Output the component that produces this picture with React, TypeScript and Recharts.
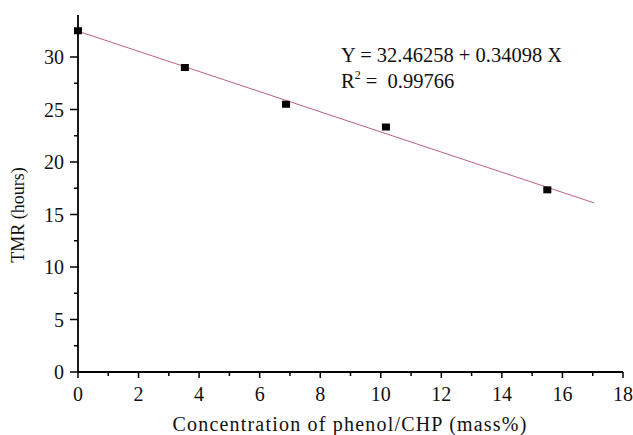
import { ComposedChart, Line, Scatter, XAxis, YAxis, Label } from "recharts";

// measured points (phenol/CHP mass%, TMR hours)
const CONC = [0, 3.53, 6.87, 10.17, 15.5];
const TMR = [32.5, 29.0, 25.5, 23.33, 17.35];

// linear fit, drawn from 0 to ~17
const FIT_X = [0, 17.05];
const FIT_Y = [32.46, 16.1];

const X_TICKS = [0, 1, 2, 3, 4, 5, 6, 7, 8, 9, 10, 11, 12, 13, 14, 15, 16, 17, 18];
const Y_TICKS = [0, 2.5, 5, 7.5, 10, 12.5, 15, 17.5, 20, 22.5, 25, 27.5, 30, 32.5];

const FONT = '"Liberation Serif", "Times New Roman", serif';

const points = CONC.map((x, i) => ({ x, y: TMR[i] }));
const fit = FIT_X.map((x, i) => ({ x, y: FIT_Y[i] }));

function XTick({ x, y, payload }: any) {
  const major = payload.value % 2 === 0;
  return (
    <g>
      <line x1={x} x2={x} y1={y} y2={y + (major ? 6 : 4)} stroke="#000" strokeWidth={1.5} />
      {major && (
        <text x={x} y={y + 29} textAnchor="middle" fontSize={20} fontFamily={FONT} fill="#111">
          {payload.value}
        </text>
      )}
    </g>
  );
}

function YTick({ x, y, payload }: any) {
  const major = payload.value % 5 === 0;
  return (
    <g>
      <line x1={x - (major ? 8 : 4)} x2={x} y1={y} y2={y} stroke="#000" strokeWidth={1.5} />
      {major && (
        <text x={x - 14} y={y + 7} textAnchor="end" fontSize={20} fontFamily={FONT} fill="#111">
          {payload.value}
        </text>
      )}
    </g>
  );
}

function Square({ cx, cy }: any) {
  return <rect x={cx - 4} y={cy - 3.5} width={8} height={7} fill="#000" />;
}

export default function App() {
  return (
    <div style={{ position: "absolute", left: 0, top: 0, width: 633, height: 435, background: "#fff" }}>
      <ComposedChart width={633} height={435} margin={{ top: 15, right: 10, bottom: 0, left: 0 }}>
        <XAxis
          type="number"
          dataKey="x"
          domain={[0, 18]}
          ticks={X_TICKS}
          interval={0}
          tickSize={0}
          tickMargin={0}
          tickLine={false}
          tick={<XTick />}
          axisLine={{ stroke: "#000", strokeWidth: 1.8 }}
          height={63}
        >
          <Label
            content={() => (
              <text x={350} y={431} textAnchor="middle" fontSize={20} fontFamily={FONT} fill="#111" letterSpacing={1.2}>
                Concentration of phenol/CHP (mass%)
              </text>
            )}
          />
        </XAxis>
        <YAxis
          type="number"
          domain={[0, 34]}
          ticks={Y_TICKS}
          interval={0}
          tickSize={0}
          tickMargin={0}
          tickLine={false}
          tick={<YTick />}
          axisLine={{ stroke: "#000", strokeWidth: 1.8 }}
          width={78}
        >
          <Label
            content={() => (
              <text
                x={0}
                y={0}
                transform="translate(24 215) rotate(-90)"
                textAnchor="middle"
                fontSize={18}
                fontFamily={FONT}
                fill="#111"
              >
                TMR (hours)
              </text>
            )}
          />
        </YAxis>
        <Line
          data={fit}
          dataKey="y"
          type="linear"
          stroke="#c0607a"
          strokeWidth={1}
          dot={false}
          activeDot={false}
          isAnimationActive={false}
        />
        <Scatter data={points} dataKey="y" shape={<Square />} isAnimationActive={false} />
      </ComposedChart>
      <svg
        width={633}
        height={435}
        style={{ position: "absolute", left: 0, top: 0, pointerEvents: "none" }}
      >
        <text x={341} y={62} fontSize={20.5} fontFamily={FONT} fill="#111">
          Y = 32.46258 + 0.34098 X
        </text>
        <text x={341} y={88} fontSize={20.5} fontFamily={FONT} fill="#111">
          R
          <tspan fontSize={12} dy={-9}>2</tspan>
          <tspan dy={9}>{"\u00a0= \u00a00.99766"}</tspan>
        </text>
      </svg>
    </div>
  );
}
